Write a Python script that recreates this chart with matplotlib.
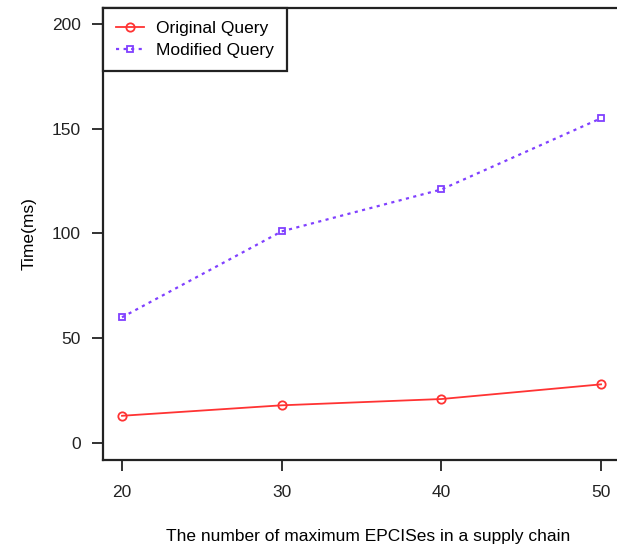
import numpy as np
from matplotlib import pyplot as plt

plt.rcParams['font.family'] = ['Liberation Sans', 'DejaVu Sans']

epcis = [20, 30, 40, 50]
original_query = [13, 18, 21, 28]
modified_query = [60, 101, 121, 155]
x_ticks = [20, 30, 40, 50]
y_ticks = [0, 50, 100, 150, 200]

fig = plt.figure(figsize=(6.17, 5.47), dpi=100)
ax = fig.add_axes([103 / 617, 87 / 547, 530 / 617, 452 / 547])

ax.plot(epcis, original_query, color='#ff3333', linewidth=1.3,
        marker='o', markersize=6, markerfacecolor='none',
        markeredgewidth=1.3, label='Original Query')
ax.plot(epcis, modified_query, color='#8040ff', linewidth=1.6,
        linestyle=(0, (1.4, 2.0)), marker='s', markersize=5,
        markerfacecolor='none', markeredgewidth=1.3, label='Modified Query')

ax.set_xlim(18.81, 52.0)
ax.set_ylim(-8.1, 207.6)
ax.set_xticks(x_ticks)
ax.set_yticks(y_ticks)
ax.tick_params(direction='out', length=8, width=1.3, labelsize=12.5,
               colors='#222222')
ax.tick_params(axis='x', pad=10)
ax.tick_params(axis='y', pad=8)
for s in ax.spines.values():
    s.set_linewidth(1.6)
    s.set_color('#222222')

ax.set_xlabel('The number of maximum EPCISes in a supply chain',
              fontsize=12.5, labelpad=21)
ax.set_ylabel('Time(ms)', fontsize=12.5)
ax.yaxis.set_label_coords(-0.125, 0.5)

leg = ax.legend(loc='upper left', fontsize=12.5, fancybox=False,
                framealpha=1, edgecolor='#222222', borderaxespad=0,
                handlelength=1.6, handletextpad=0.7, borderpad=0.75,
                labelspacing=0.4)
leg.get_frame().set_linewidth(1.6)

plt.savefig('out.png', dpi=100)
